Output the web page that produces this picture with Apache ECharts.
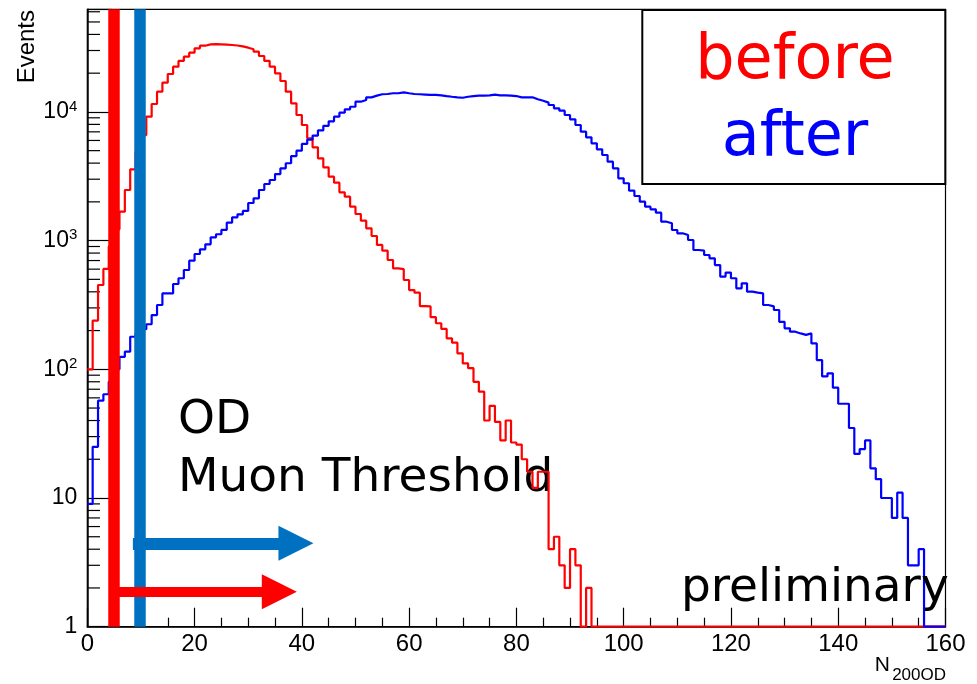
<!DOCTYPE html>
<html>
<head>
<meta charset="utf-8">
<title>N200OD before / after</title>
<script src="https://cdn.jsdelivr.net/npm/echarts@6/dist/echarts.min.js"></script>
<style>
  html, body { margin: 0; padding: 0; background: #fff; }
  #chart { width: 977px; height: 684px; }
</style>
</head>
<body>
<div id="chart"></div>
<script>
// histogram bins: width 1 in N200OD, first bin starts at 0
const binStart = 0;
const binWidth = 1;
const xTicks = [0, 20, 40, 60, 80, 100, 120, 140, 160];
const yDecades = [1, 10, 100, 1000, 10000];
const yMinorSteps = [2, 3, 4, 5, 6, 7, 8, 9];
const yMax = 62700;

// events per bin, before
const before = [
  100, 239, 452, 602, 900, 1224, 1678, 2473, 3580, 4900,
  6610, 9180, 11520, 14350, 16870, 19700, 22450, 24880, 26850, 28840,
  31200, 32680, 33500, 33600, 33500, 33300, 33100, 32800, 32300, 31550,
  30640, 29370, 27200, 24880, 22450, 19950, 17380, 14350, 11660, 9460,
  7910, 6240, 5310, 4360, 3710, 3140, 2820, 2373, 2193, 1834,
  1610, 1428, 1246, 1086, 925, 835, 707, 609, 600, 494,
  413, 394, 310, 308, 254, 228, 206, 174, 161, 133,
  111, 102, 80, 67, 40, 52, 39, 28, 40, 27,
  26, 20, 16, 12, 16, 16, 4, 5, 3, 2,
  4, 3, 0, 2, 0, 0, 0, 0, 0, 0,
  0, 0, 0, 0, 0, 0, 0, 0, 0, 0,
  0, 0, 0, 0, 0, 0, 0, 0, 0, 0,
  0, 0, 0, 0, 0, 0, 0, 0, 0, 0,
  0, 0, 0, 0, 0, 0, 0, 0, 0, 0,
  0, 0, 0, 0, 0, 0, 0, 0, 0, 0,
  0, 0, 0, 0, 0, 0, 0, 0, 0, 0
];

// events per bin, after
const after = [
  9, 25, 57, 64, 80, 100, 125, 137, 179, 190,
  205, 224, 264, 316, 389, 389, 460, 510, 591, 698,
  787, 856, 936, 1060, 1120, 1210, 1377, 1518, 1600, 1700,
  1960, 2130, 2473, 2754, 2958, 3291, 3647, 3990, 4540, 5000,
  5636, 6100, 6550, 7180, 7800, 8450, 9180, 9860, 10470, 10970,
  12000, 12380, 12980, 13370, 13710, 13780, 13960, 13960, 14200, 13960,
  13780, 13710, 13630, 13540, 13540, 13460, 13280, 13120, 12980, 12880,
  13120, 13280, 13370, 13370, 13460, 13630, 13460, 13460, 13370, 13280,
  12980, 12980, 12980, 12530, 12220, 11800, 11320, 10670, 10220, 9460,
  8760, 7910, 7020, 6350, 5700, 5120, 4625, 4105, 3647, 3050,
  2790, 2443, 2222, 2005, 1834, 1750, 1648, 1403, 1363, 1209,
  1140, 1105, 1011, 845, 835, 773, 728, 646, 525, 564,
  510, 426, 466, 401, 394, 389, 316, 308, 289, 234,
  208, 196, 190, 185, 190, 159, 118, 88, 93, 72,
  54, 54, 35, 22, 24, 28, 17, 14, 10, 10,
  7, 11, 7, 3, 3, 4, 0, 0, 0, 0
];

// threshold markers and arrows (N200OD, Events)
const beforeCut = 4.9;
const afterCut = 9.8;
const beforeArrow = { y: 1.87, from: 4.9, to: 35.8 };
const afterArrow = { y: 4.45, from: 8.5, to: 38.9 };

const RED = '#ff0000';
const BLUE = '#0000ff';
const CUT_RED = '#ff0000';
const CUT_BLUE = '#0070c0';
const AXIS_FONT = 'Liberation Sans';
const NOTE_FONT = 'DejaVu Sans';

// step points: left edge of each bin, plus closing point at last edge
function toSteps(counts) {
  let pts = counts.map((c, i) => [binStart + i * binWidth, c > 0 ? c : 1]);
  pts.push([binStart + counts.length * binWidth, pts[pts.length - 1][1]]);
  return pts;
}

let minorVals = [];
for (let d of yDecades) {
  for (let m of yMinorSteps) {
    if (d * m <= yMax) minorVals.push([0, d * m]);
  }
}

function yLabel(v) {
  let e = Math.log10(v);
  let n = Math.round(e);
  if (Math.abs(e - n) > 1e-6) return '';
  if (n === 0) return '1';
  if (n === 1) return '10';
  return '{b|10}{s|' + n + '}';
}

//arrow: shaft from -> to, triangle head at the end
function arrow(a, color, width) {
  return [
    { coord: [a.from, a.y], symbol: 'none', lineStyle: { color: color, width: width, type: 'solid' } },
    { coord: [a.to, a.y], symbol: 'triangle', symbolSize: 35 }
  ];
}

let myChart = echarts.init(document.getElementById('chart'), null, { renderer: 'canvas' });

let option = {
  animation: false,
  backgroundColor: '#fff',
  grid: {
    left: 87.3,
    right: 31.5,
    top: 9.3,
    bottom: 57.3,
    outerBoundsMode: 'none',
    containLabel: false,
    show: true,
    borderColor: '#000',
    borderWidth: 1.2
  },
  xAxis: {
    type: 'value',
    min: xTicks[0],
    max: xTicks[xTicks.length - 1],
    interval: 20,
    axisLine: { lineStyle: { color: '#000', width: 1.5 } },
    axisTick: { inside: true, length: 19, lineStyle: { color: '#000', width: 1.2 } },
    minorTick: { show: true, splitNumber: 4, length: 9, lineStyle: { color: '#000', width: 1.2 } },
    splitLine: { show: false },
    axisLabel: {
      margin: 6,
      color: '#000',
      fontFamily: AXIS_FONT,
      fontSize: 24
    }
  },
  yAxis: {
    type: 'log',
    logBase: 10,
    min: yDecades[0],
    max: yMax,
    axisLine: { lineStyle: { color: '#000', width: 1.5 } },
    axisTick: { inside: true, length: 25, lineStyle: { color: '#000', width: 1.2 } },
    splitLine: { show: false },
    axisLabel: {
      margin: 10,
      color: '#000',
      fontFamily: AXIS_FONT,
      fontSize: 23,
      formatter: yLabel,
      rich: {
        b: { fontFamily: AXIS_FONT, fontSize: 23, color: '#000', lineHeight: 26 },
        s: { fontFamily: AXIS_FONT, fontSize: 15, color: '#000', lineHeight: 15, verticalAlign: 'top' }
      }
    }
  },
  series: [
    {
      // log axis minor ticks at 2..9 x 10^n
      type: 'custom',
      silent: true,
      data: minorVals,
      renderItem: (params, api) => {
        let p = api.coord([api.value(0), api.value(1)]);
        return {
          type: 'line',
          shape: { x1: p[0], y1: p[1], x2: p[0] + 12.7, y2: p[1] },
          style: { stroke: '#000', lineWidth: 1.2 }
        };
      }
    },
    {
      name: 'before',
      type: 'line',
      step: 'end',
      symbol: 'none',
      silent: true,
      lineStyle: { color: RED, width: 2.2 },
      data: toSteps(before)
    },
    {
      name: 'after',
      type: 'line',
      step: 'end',
      symbol: 'none',
      silent: true,
      lineStyle: { color: BLUE, width: 2.2 },
      data: toSteps(after),
      markLine: {
        silent: true,
        animation: false,
        symbol: 'none',
        symbolSize: 35,
        label: { show: false },
        emphasis: { disabled: true },
        data: [
          { xAxis: beforeCut, lineStyle: { color: CUT_RED, width: 11.5, type: 'solid' } },
          { xAxis: afterCut, lineStyle: { color: CUT_BLUE, width: 11.5, type: 'solid' } },
          arrow(beforeArrow, CUT_RED, 10),
          arrow(afterArrow, CUT_BLUE, 12)
        ]
      }
    }
  ],
  graphic: [
    {
      type: 'text',
      x: 27.5,
      y: 10,
      rotation: Math.PI / 2,
      style: { text: 'Events', fontFamily: AXIS_FONT, fontSize: 24, fill: '#000', align: 'right', verticalAlign: 'middle' }
    },
    // x axis title: N with subscript 200OD
    {
      type: 'text',
      x: 890,
      y: 665,
      style: { text: 'N', fontFamily: AXIS_FONT, fontSize: 21, fill: '#000', align: 'right', verticalAlign: 'middle' }
    },
    {
      type: 'text',
      x: 946,
      y: 675,
      style: { text: '200OD', fontFamily: AXIS_FONT, fontSize: 17, fill: '#000', align: 'right', verticalAlign: 'middle' }
    },
    {
      type: 'text',
      x: 178,
      y: 420.4,
      style: { text: 'OD', fontFamily: NOTE_FONT, fontSize: 47, fill: '#000', verticalAlign: 'middle' }
    },
    {
      type: 'text',
      x: 178,
      y: 478.7,
      style: { text: 'Muon Threshold', fontFamily: NOTE_FONT, fontSize: 47, fill: '#000', verticalAlign: 'middle' }
    },
    {
      type: 'text',
      x: 681,
      y: 588.7,
      z: 10,
      style: { text: 'preliminary', fontFamily: NOTE_FONT, fontSize: 47, fill: '#000', verticalAlign: 'middle' }
    },
    {
      type: 'group',
      z: 20,
      children: [
        {
          type: 'rect',
          shape: { x: 642.3, y: 10, width: 303, height: 174 },
          style: { fill: '#fff', stroke: '#000', lineWidth: 2 }
        },
        {
          type: 'text',
          x: 795,
          y: 61.5,
          style: { text: 'before', fontFamily: NOTE_FONT, fontSize: 62, fill: RED, align: 'center', verticalAlign: 'middle' }
        },
        {
          type: 'text',
          x: 795,
          y: 138.5,
          style: { text: 'after', fontFamily: NOTE_FONT, fontSize: 62, fill: BLUE, align: 'center', verticalAlign: 'middle' }
        }
      ]
    }
  ]
};

myChart.setOption(option);
</script>
</body>
</html>
